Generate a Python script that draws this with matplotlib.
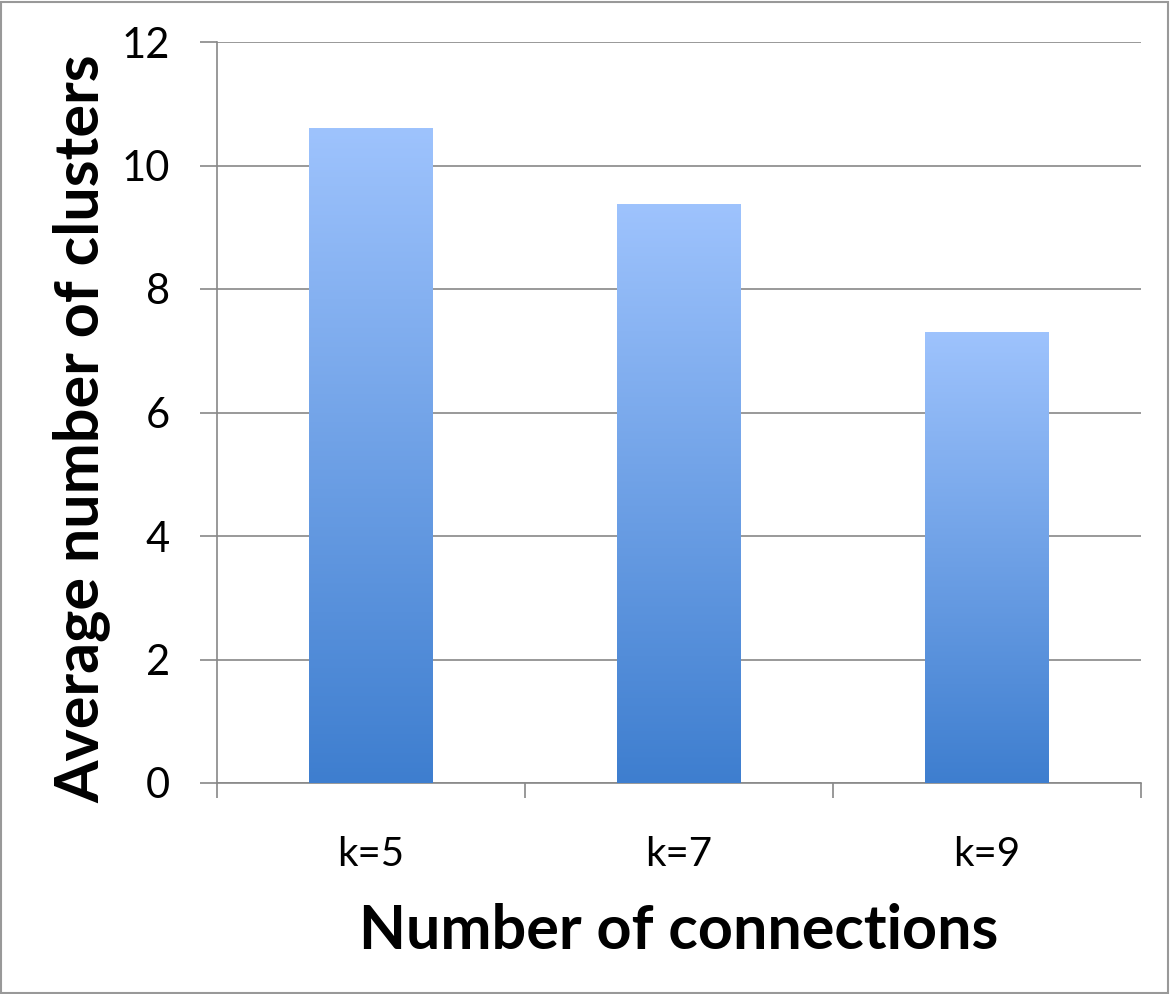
import matplotlib
matplotlib.use("Agg")
import matplotlib.pyplot as plt
import numpy as np
from matplotlib.colors import LinearSegmentedColormap
from matplotlib.patches import Rectangle

categories = ["k=5", "k=7", "k=9"]
values = [10.6, 9.37, 7.3]
yticks = [0, 2, 4, 6, 8, 10, 12]

plt.rcParams['font.family'] = ['Lato', 'DejaVu Sans']

W, H = 1170, 994
fig = plt.figure(figsize=(W / 100, H / 100), dpi=100)
ax = fig.add_axes([217 / W, 1 - 783 / H, (1141 - 217) / W, (783 - 42) / H])

x = np.arange(len(categories))
bars = ax.bar(x, values, width=0.4, color="none", edgecolor="none", zorder=3)

cmap = LinearSegmentedColormap.from_list("g", ["#3E7ECF", "#9EC3FD"])
grad = np.linspace(0, 1, 256).reshape(-1, 1)
for b in bars:
    x0, y0 = b.get_x(), b.get_y()
    w, h = b.get_width(), b.get_height()
    im = ax.imshow(grad, cmap=cmap, origin="lower", aspect="auto",
                   extent=[x0, x0 + w, y0, y0 + h], zorder=3)
    im.set_clip_path(b)

ax.set_xlim(-0.5, len(categories) - 0.5)
ax.set_ylim(0, 12)
ax.set_yticks(yticks)
ax.set_yticklabels([str(t) for t in yticks], fontsize=30)
ax.set_xticks(x)
ax.set_xticklabels(categories, fontsize=29)
ax.set_xticks(np.arange(-0.5, len(categories), 1.0), minor=True)

ax.tick_params(axis='x', which='major', length=0, pad=38)
ax.tick_params(axis='x', which='minor', length=11, width=1.2, color="#888888", direction='out')
ax.tick_params(axis='y', length=12, width=1.2, color="#888888", pad=22)

ax.yaxis.grid(True, color="#888888", linewidth=1.2, zorder=0)
ax.set_axisbelow(True)
for s in ["top", "right"]:
    ax.spines[s].set_visible(False)
for s in ["left", "bottom"]:
    ax.spines[s].set_color("#888888")
    ax.spines[s].set_linewidth(1.2)

ax.set_xlabel("Number of connections", fontsize=44, fontweight="bold", labelpad=22)
ax.set_ylabel("Average number of clusters", fontsize=44, fontweight="bold")
ax.yaxis.set_label_coords(-0.115, 0.478)

fig.patches.append(Rectangle((0.001, 0.001), 0.997, 0.997, transform=fig.transFigure,
                             fill=False, edgecolor="#999999", linewidth=1.5))

fig.savefig("out.png", dpi=100)
